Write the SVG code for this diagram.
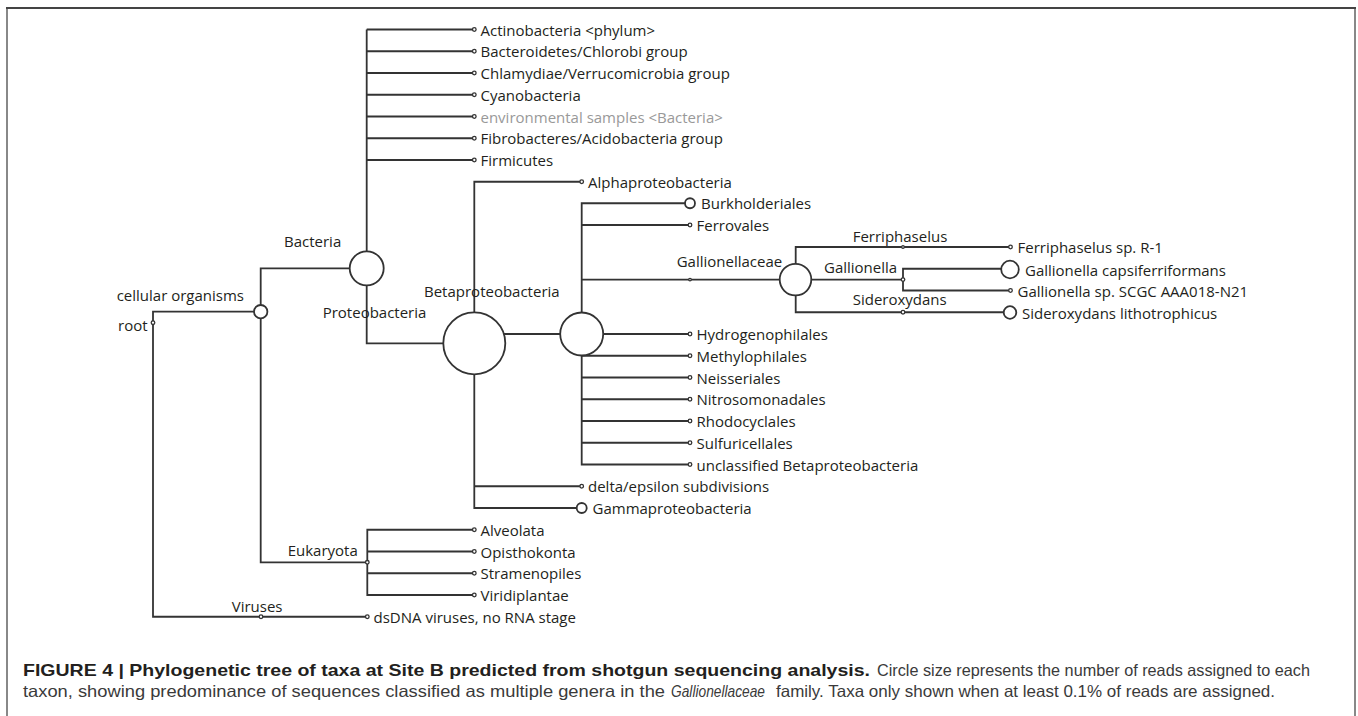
<svg xmlns="http://www.w3.org/2000/svg" width="1358" height="716" viewBox="0 0 1358 716">
<style>
.ln{fill:none;stroke:#333;stroke-width:1.8}
.nd{fill:#fff;stroke:#333;stroke-width:1.8}
.dt{fill:#fff;stroke:#333;stroke-width:1.3}
.t{font-family:"Open Sans","Noto Sans",sans-serif;font-size:15px;fill:#231f20}
.g{fill:#999}
.cap{font-family:"Liberation Sans",Arial,sans-serif;font-size:16.5px;fill:#3a3a3a}
.b{font-weight:bold;fill:#231f20}
</style>
<rect width="1358" height="716" fill="#fff"/>
<path d="M7,716 V8" stroke="#888" stroke-width="2" fill="none"/>
<path d="M1355,716 V8" stroke="#888" stroke-width="2" fill="none"/>
<path d="M6,8 H1356" stroke="#444" stroke-width="2" fill="none"/>

<g id="connectors">
<path class="ln" d="M260.7,311.7 H153 V616.75 H367.3"/>
<path class="ln" d="M366.7,268.3 H260.7 V562.3 H367.3"/>
<path class="ln" d="M366.7,29.5 V343.3 H474.3"/>
<path class="ln" d="M366.7,29.5 H474.3 M366.7,51.25 H474.3 M366.7,73 H474.3 M366.7,94.75 H474.3 M366.7,116.5 H474.3 M366.7,138.25 H474.3 M366.7,160 H474.3"/>
<path class="ln" d="M581.7,181.75 H474.3 V508 H581.7 M474.3,486.25 H581.7 M474.3,334 H581.7"/>
<path class="ln" d="M690,203.25 H581.7 V464.5 H690 M581.7,225 H690 M581.7,279.6 H795 M581.7,334 H690 M581.7,355.75 H690 M581.7,377.5 H690 M581.7,399.25 H690 M581.7,421 H690 M581.7,442.75 H690"/>
<path class="ln" d="M1010.5,247 H795.7 V312.25 H1010.5 M795,279.6 H903"/>
<path class="ln" d="M1010.5,268.75 H903 V290.5 H1010.5"/>
<path class="ln" d="M474.3,529.75 H367.3 V595 H474.3 M367.3,551.5 H474.3 M367.3,573.25 H474.3"/>
</g>

<g id="root">
<circle class="dt" cx="153" cy="322.7" r="1.8"/>
<text class="t" x="118" y="330.5">root</text>
</g>
<g id="cellular-organisms">
<circle class="nd" cx="260.7" cy="311.7" r="6.7"/>
<text class="t" x="116.7" y="301">cellular organisms</text>
</g>
<g id="bacteria">
<circle class="nd" cx="366.7" cy="268.3" r="17"/>
<text class="t" x="284" y="247">Bacteria</text>
</g>
<g id="actinobacteria"><circle class="dt" cx="474.3" cy="29.5" r="1.8"/><text class="t" x="480.5" y="35.5">Actinobacteria &lt;phylum&gt;</text></g>
<g id="bacteroidetes"><circle class="dt" cx="474.3" cy="51.25" r="1.8"/><text class="t" x="480.5" y="57.25">Bacteroidetes/Chlorobi group</text></g>
<g id="chlamydiae"><circle class="dt" cx="474.3" cy="73" r="1.8"/><text class="t" x="480.5" y="79">Chlamydiae/Verrucomicrobia group</text></g>
<g id="cyanobacteria"><circle class="dt" cx="474.3" cy="94.75" r="1.8"/><text class="t" x="480.5" y="100.75">Cyanobacteria</text></g>
<g id="environmental-samples"><circle class="dt" cx="474.3" cy="116.5" r="1.8" stroke="#999"/><text class="t g" x="480.5" y="122.5">environmental samples &lt;Bacteria&gt;</text></g>
<g id="fibrobacteres"><circle class="dt" cx="474.3" cy="138.25" r="1.8"/><text class="t" x="480.5" y="144.25">Fibrobacteres/Acidobacteria group</text></g>
<g id="firmicutes"><circle class="dt" cx="474.3" cy="160" r="1.8"/><text class="t" x="480.5" y="166">Firmicutes</text></g>

<g id="proteobacteria">
<circle class="nd" cx="474.3" cy="343.3" r="31"/>
<text class="t" x="322.7" y="318">Proteobacteria</text>
</g>
<g id="alphaproteobacteria"><circle class="dt" cx="581.7" cy="181.75" r="1.8"/><text class="t" x="588" y="187.75">Alphaproteobacteria</text></g>
<g id="betaproteobacteria">
<circle class="nd" cx="581.7" cy="334" r="21.5"/>
<text class="t" x="424" y="297.4">Betaproteobacteria</text>
</g>
<g id="delta-epsilon"><circle class="dt" cx="581.7" cy="486.25" r="1.8"/><text class="t" x="588" y="492.25">delta/epsilon subdivisions</text></g>
<g id="gammaproteobacteria"><circle class="nd" cx="581.7" cy="508" r="5"/><text class="t" x="592.5" y="514">Gammaproteobacteria</text></g>

<g id="burkholderiales"><circle class="nd" cx="690" cy="203.25" r="5"/><text class="t" x="701" y="209.25">Burkholderiales</text></g>
<g id="ferrovales"><circle class="dt" cx="690" cy="225" r="1.8"/><text class="t" x="696.5" y="231">Ferrovales</text></g>
<g id="gallionellales"><circle class="dt" cx="690" cy="279.6" r="1.3"/></g>
<g id="gallionellaceae">
<circle class="nd" cx="795.5" cy="279.6" r="15.8"/>
<text class="t" x="676.7" y="267.3">Gallionellaceae</text>
</g>
<g id="ferriphaselus">
<circle class="dt" cx="903" cy="247" r="1.3"/>
<text class="t" x="852.7" y="242.4">Ferriphaselus</text>
</g>
<g id="gallionella">
<circle class="dt" cx="903" cy="279.6" r="1.8"/>
<text class="t" x="824" y="273.3">Gallionella</text>
</g>
<g id="sideroxydans">
<circle class="dt" cx="903" cy="312.25" r="1.8"/>
<text class="t" x="852.7" y="305">Sideroxydans</text>
</g>
<g id="ferriphaselus-sp"><circle class="dt" cx="1010.5" cy="247" r="1.8"/><text class="t" x="1017.5" y="253">Ferriphaselus sp. R-1</text></g>
<g id="gallionella-capsiferriformans"><circle class="nd" cx="1010" cy="269.5" r="8.8"/><text class="t" x="1025" y="275.5">Gallionella capsiferriformans</text></g>
<g id="gallionella-sp"><circle class="dt" cx="1010.5" cy="290.5" r="1.8"/><text class="t" x="1017.5" y="296.5">Gallionella sp. SCGC AAA018-N21</text></g>
<g id="sideroxydans-lithotrophicus"><circle class="nd" cx="1010" cy="312.5" r="6.3"/><text class="t" x="1022" y="318.5">Sideroxydans lithotrophicus</text></g>

<g id="hydrogenophilales"><circle class="dt" cx="690" cy="334" r="1.8"/><text class="t" x="696.5" y="340">Hydrogenophilales</text></g>
<g id="methylophilales"><circle class="dt" cx="690" cy="355.75" r="1.8"/><text class="t" x="696.5" y="361.75">Methylophilales</text></g>
<g id="neisseriales"><circle class="dt" cx="690" cy="377.5" r="1.8"/><text class="t" x="696.5" y="383.5">Neisseriales</text></g>
<g id="nitrosomonadales"><circle class="dt" cx="690" cy="399.25" r="1.8"/><text class="t" x="696.5" y="405.25">Nitrosomonadales</text></g>
<g id="rhodocyclales"><circle class="dt" cx="690" cy="421" r="1.8"/><text class="t" x="696.5" y="427">Rhodocyclales</text></g>
<g id="sulfuricellales"><circle class="dt" cx="690" cy="442.75" r="1.8"/><text class="t" x="696.5" y="448.75">Sulfuricellales</text></g>
<g id="unclassified-beta"><circle class="dt" cx="690" cy="464.5" r="1.8"/><text class="t" x="696.5" y="470.5">unclassified Betaproteobacteria</text></g>

<g id="eukaryota">
<circle class="dt" cx="367.3" cy="562.3" r="1.8"/>
<text class="t" x="287.7" y="555.7">Eukaryota</text>
</g>
<g id="alveolata"><circle class="dt" cx="474.3" cy="529.75" r="1.8"/><text class="t" x="480.5" y="535.75">Alveolata</text></g>
<g id="opisthokonta"><circle class="dt" cx="474.3" cy="551.5" r="1.8"/><text class="t" x="480.5" y="557.5">Opisthokonta</text></g>
<g id="stramenopiles"><circle class="dt" cx="474.3" cy="573.25" r="1.8"/><text class="t" x="480.5" y="579.25">Stramenopiles</text></g>
<g id="viridiplantae"><circle class="dt" cx="474.3" cy="595" r="1.8"/><text class="t" x="480.5" y="601">Viridiplantae</text></g>

<g id="viruses">
<circle class="dt" cx="261" cy="616.75" r="1.8"/>
<text class="t" x="231.7" y="611.7">Viruses</text>
</g>
<g id="dsdna-viruses"><circle class="dt" cx="367.3" cy="616.75" r="1.8"/><text class="t" x="373.5" y="622.75">dsDNA viruses, no RNA stage</text></g>

<g id="caption">
<text class="cap b" x="23" y="676" textLength="847" lengthAdjust="spacingAndGlyphs">FIGURE 4 | Phylogenetic tree of taxa at Site B predicted from shotgun sequencing analysis.</text>
<text class="cap" x="877" y="676" textLength="433" lengthAdjust="spacingAndGlyphs">Circle size represents the number of reads assigned to each</text>
<text class="cap" x="23" y="697" textLength="642" lengthAdjust="spacingAndGlyphs">taxon, showing predominance of sequences classified as multiple genera in the</text>
<text class="cap" x="671" y="697" font-style="italic" textLength="94" lengthAdjust="spacingAndGlyphs">Gallionellaceae</text>
<text class="cap" x="776" y="697" textLength="499" lengthAdjust="spacingAndGlyphs">family. Taxa only shown when at least 0.1% of reads are assigned.</text>
</g>
</svg>
